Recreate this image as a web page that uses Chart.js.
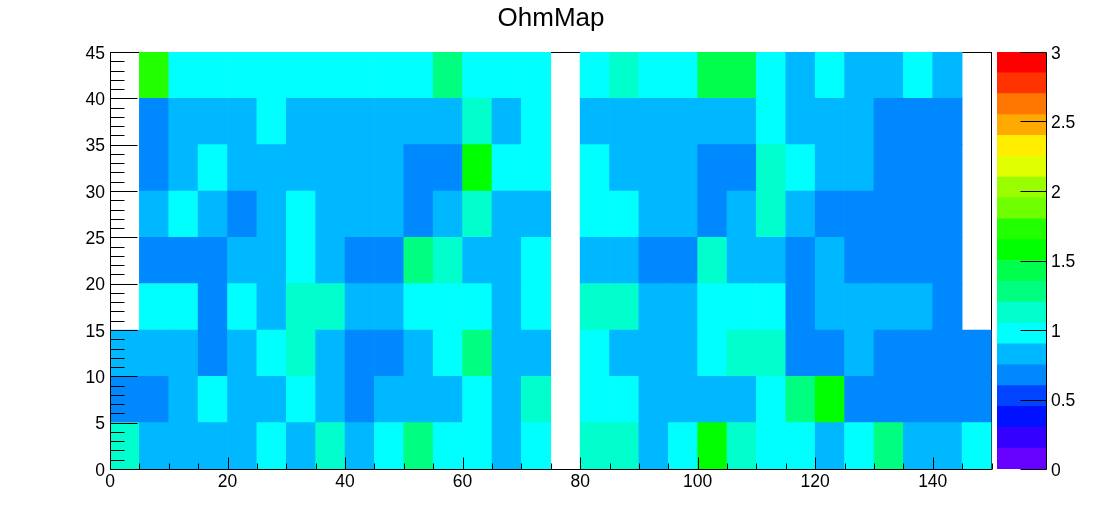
<!DOCTYPE html>
<html>
<head>
<meta charset="utf-8">
<title>OhmMap</title>
<script src="https://cdn.jsdelivr.net/npm/chart.js@4"></script>
<style>
    html, body { margin: 0; padding: 0; background: #fff; }
    #wrap { position: relative; width: 1102px; height: 522px; }
    #wrap canvas { position: absolute; left: 0; top: 0; }
</style>
</head>
<body>
<div id="wrap">
    <canvas id="ohmMap" width="1102" height="522"></canvas>
    <canvas id="ohmScale" width="1102" height="522"></canvas>
</div>
<script>
// Bin edges of the map
const xEdges = [0, 5, 10, 15, 20, 25, 30, 35, 40, 45, 50, 55, 60, 65, 70, 75, 80, 85, 90, 95, 100, 105, 110, 115, 120, 125, 130, 135, 140, 145, 150];
const yEdges = [0, 5, 10, 15, 20, 25, 30, 35, 40, 45];

// Cell values, one list per row, bottom row first (null = empty bin)
const row0 = [1.12, .82, .82, .82, .82, .97, .82, 1.12, .82, .97, 1.27, .97, .97, .82, .97, null, 1.12, 1.12, .82, .97, 1.57, 1.12, .97, .97, .82, .97, 1.27, .82, .82, .97];
const row1 = [.68, .68, .82, .97, .82, .82, .97, .82, .68, .82, .82, .82, .97, .82, 1.12, null, .97, .97, .82, .82, .82, .82, .97, 1.27, 1.57, .68, .68, .68, .68, .68];
const row2 = [.82, .82, .82, .68, .82, .97, 1.12, .82, .68, .68, .82, .97, 1.27, .82, .82, null, .97, .82, .82, .82, .97, 1.12, 1.12, .68, .68, .82, .68, .68, .68, .68];
const row3 = [null, .97, .97, .68, .97, .82, 1.12, 1.12, .82, .82, .97, .97, .97, .82, .97, null, 1.12, 1.12, .82, .82, .97, .97, .97, .68, .82, .82, .82, .82, .68, null];
const row4 = [null, .68, .68, .68, .82, .82, .97, .82, .68, .68, 1.27, 1.12, .82, .82, .97, null, .82, .82, .68, .68, 1.12, .82, .82, .68, .82, .68, .68, .68, .68, null];
const row5 = [null, .82, .97, .82, .68, .82, .97, .82, .82, .82, .68, .82, 1.12, .82, .82, null, .97, .97, .82, .82, .68, .82, 1.12, .82, .68, .68, .68, .68, .68, null];
const row6 = [null, .68, .82, .97, .82, .82, .82, .82, .82, .82, .68, .68, 1.57, .97, .97, null, .97, .82, .82, .82, .68, .68, 1.12, .97, .82, .82, .68, .68, .68, null];
const row7 = [null, .68, .82, .82, .82, .97, .82, .82, .82, .82, .82, .82, 1.12, .82, .97, null, .82, .82, .82, .82, .82, .82, .97, .82, .82, .82, .68, .68, .68, null];
const row8 = [null, 1.72, .97, .97, .97, .97, .97, .97, .97, .97, .97, 1.27, .97, .97, .97, null, .97, 1.12, .97, .97, 1.42, 1.42, .97, .82, .97, .82, .82, .97, .82, null];
const rows = [row0, row1, row2, row3, row4, row5, row6, row7, row8];

// Colour palette, bottom to top of the z scale
const zEdges = [0, .15, .3, .45, .6, .75, .9, 1.05, 1.2, 1.35, 1.5, 1.65, 1.8, 1.95, 2.1, 2.25, 2.4, 2.55, 2.7, 2.85, 3];
const zColors = ['#6600ff', '#3300ff', '#0011ff', '#0044ff', '#0088ff', '#00b8ff', '#00ffff', '#00ffcc', '#00ff80', '#00ff4c',
    '#00ff00', '#22ff00', '#6fff00', '#99ff00', '#e0ff00', '#ffee00', '#ffaa00', '#ff7700', '#ff3300', '#ff0000'];

const tickFont = { family: '"Liberation Sans", Arial, sans-serif', size: 17.5 };

function colorFor(value) {
    let i = zEdges.findIndex(edge => value < edge) - 1;
    return zColors[i];
}

// ROOT style frame, goes under the cells
const framePlugin = {
    id: 'frame',
    beforeDatasetsDraw(chart) {
        const { ctx, chartArea: a } = chart;
        ctx.save();
        ctx.strokeStyle = '#000';
        ctx.lineWidth = 1;
        ctx.strokeRect(a.left + 0.5, a.top + 0.5, Math.floor(a.right) - a.left, a.bottom - a.top);
        ctx.restore();
    }
};

function tickLine(ctx, x1, y1, x2, y2) {
    ctx.beginPath();
    ctx.moveTo(Math.round(x1) + 0.5, Math.round(y1) + 0.5);
    ctx.lineTo(Math.round(x2) + 0.5, Math.round(y2) + 0.5);
    ctx.stroke();
}

// Inside tick marks, on top of the cells
const ticksPlugin = {
    id: 'insideTicks',
    afterDatasetsDraw(chart) {
        const { ctx, chartArea: a, scales } = chart;
        ctx.save();
        ctx.strokeStyle = '#000';
        ctx.lineWidth = 1;
        tickLine(ctx, a.left, a.bottom, Math.floor(a.right), a.bottom);
        tickLine(ctx, a.left, a.top, a.left, a.bottom);
        for (let v = 0; v <= 150; v += 5) {
            const x = scales.x.getPixelForValue(v);
            tickLine(ctx, x, a.bottom, x, a.bottom - (v % 20 === 0 ? 12 : 6));
        }
        for (let v = 0; v <= 45; v += 1) {
            const y = scales.y.getPixelForValue(v);
            tickLine(ctx, a.left, y, a.left + (v % 5 === 0 ? 27 : 14), y);
        }
        ctx.restore();
    }
};

const scaleTicksPlugin = {
    id: 'scaleTicks',
    afterDatasetsDraw(chart) {
        const { ctx, chartArea: a, scales } = chart;
        ctx.save();
        ctx.strokeStyle = '#000';
        ctx.lineWidth = 1;
        tickLine(ctx, a.right, a.top, a.right, a.bottom);
        scales.y.ticks.forEach(t => {
            const y = scales.y.getPixelForValue(t.value);
            tickLine(ctx, a.right - 26, y, a.right, y);
        });
        ctx.restore();
    }
};

// Map: one dataset per row, each bin a floating bar
const mapDatasets = rows.map((row, r) => ({
    data: row.map((value, i) => value === null ? null : {
        x: (xEdges[i] + xEdges[i + 1]) / 2,
        y: [yEdges[r], yEdges[r + 1]],
        z: value
    }).filter(d => d !== null),
    backgroundColor: ctx => colorFor(ctx.raw.z),
    borderWidth: 0,
    barPercentage: 1,
    categoryPercentage: 1,
    grouped: false
}));

new Chart(document.getElementById('ohmMap'), {
    type: 'bar',
    data: { datasets: mapDatasets },
    options: {
        responsive: false,
        animation: false,
        events: [],
        plugins: {
            legend: { display: false },
            tooltip: { enabled: false },
            title: {
                display: true,
                text: 'OhmMap',
                color: '#000',
                font: { family: tickFont.family, size: 26, weight: 'normal' },
                padding: { top: 3, bottom: 17.8 }
            }
        },
        scales: {
            x: {
                type: 'linear',
                offset: false,
                min: 0,
                max: 150,
                grid: { display: false, drawTicks: false, offset: false },
                border: { display: false },
                ticks: { stepSize: 20, includeBounds: false, maxRotation: 0, color: '#000', font: tickFont, padding: 3 },
                afterFit(scale) { scale.height = 53; }
            },
            y: {
                type: 'linear',
                min: 0,
                max: 45,
                grid: { display: false, drawTicks: false },
                border: { display: false },
                ticks: { stepSize: 5, color: '#000', font: tickFont, padding: 5, labelOffset: 2 },
                afterFit(scale) { scale.width = 110; }
            },
            // empty axis, keeps room for the colour scale and the title centred on the page
            gap: {
                type: 'linear',
                position: 'right',
                grid: { display: false, drawTicks: false },
                border: { display: false },
                ticks: { display: false },
                afterFit(scale) { scale.width = 110.5; }
            }
        }
    },
    plugins: [framePlugin, ticksPlugin]
});

// Colour scale on its own canvas, same top and bottom as the map
new Chart(document.getElementById('ohmScale'), {
    type: 'bar',
    data: {
        labels: ['z'],
        datasets: zColors.map((color, i) => ({
            data: [[zEdges[i], zEdges[i + 1]]],
            backgroundColor: color,
            borderWidth: 0,
            barPercentage: 1,
            categoryPercentage: 1,
            grouped: false
        }))
    },
    options: {
        responsive: false,
        animation: false,
        events: [],
        layout: { padding: { top: 52, right: 0, bottom: 53, left: 997 } },
        plugins: { legend: { display: false }, tooltip: { enabled: false } },
        scales: {
            x: { display: false },
            y: {
                position: 'right',
                min: 0,
                max: 3,
                grid: { display: false, drawTicks: false },
                border: { display: false },
                ticks: { stepSize: 0.5, color: '#000', font: tickFont, padding: 5, labelOffset: 2, callback: v => String(v) },
                afterFit(scale) { scale.width = 56; }
            }
        }
    },
    plugins: [scaleTicksPlugin]
});
</script>
</body>
</html>
